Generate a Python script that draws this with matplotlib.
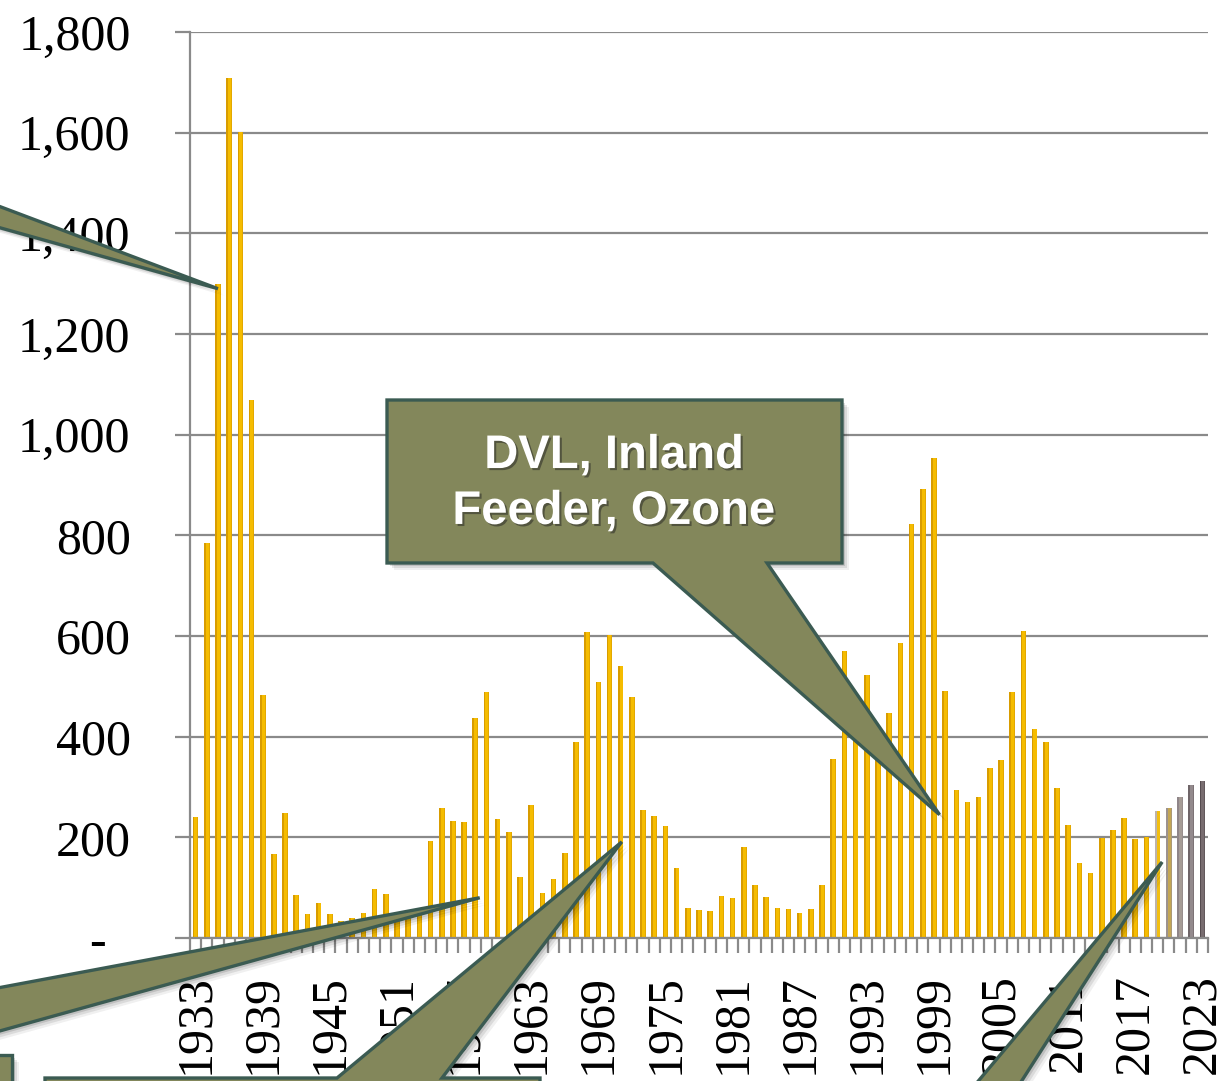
import numpy as np
import matplotlib
matplotlib.use("Agg")
import matplotlib.pyplot as plt
import matplotlib.patches as mpatches
import matplotlib.patheffects as pe
from matplotlib.transforms import IdentityTransform
from matplotlib.ticker import FuncFormatter

years = list(range(1933, 2024))
values = [240, 785, 1300, 1709, 1601, 1069, 483, 167, 248, 85,
          48, 70, 48, 34, 40, 50, 97, 87, 40, 52,
          60, 193, 258, 232, 230, 437, 489, 236, 210, 121,
          264, 89, 117, 169, 389, 608, 509, 602, 540, 479,
          254, 242, 222, 139, 60, 56, 54, 83, 79, 181,
          105, 81, 60, 58, 50, 58, 105, 355, 571, 450,
          523, 400, 448, 587, 822, 893, 953, 490, 295, 271,
          281, 337, 353, 488, 609, 416, 390, 299, 224, 150,
          130, 199, 215, 239, 197, 201, 253, 259, 281, 303,
          311]
# last five years fade from gold to grey
face_colors = ['#F5BC00'] * 86 + ['#F2BE10', '#C4A654', '#A69C96', '#938A8D', '#786D70']
shade_colors = ['#D89C00'] * 86 + ['#BDB3AA', '#9C928E', '#8F8588', '#6F6568', '#564C50']

callout_text = "DVL, Inland\nFeeder, Ozone"
# (year, value) where each callout tail points
tip_top_left = (1935, 1290)
tip_dvl = (1999.5, 245)
tip_bottom_left = (1958.4, 80)
tip_bottom_mid = (1971.1, 191)
tip_bottom_right = (2019.4, 151)

W, H = 1230, 1081
grey = '#8A8A8A'
fill = '#83875B'
border = '#3B5B52'

plt.rcParams['font.family'] = ['Liberation Serif', 'DejaVu Serif']

fig = plt.figure(figsize=(W / 100, H / 100), dpi=100)
ax = fig.add_axes([190 / W, 1 - 938 / H, 1018 / W, (938 - 32) / H])

x = np.arange(len(years))
ax.bar(x, values, width=0.5, color=face_colors, zorder=2)
ax.bar(x - 0.25, values, width=0.15, align='edge', color=shade_colors, zorder=2)
ax.bar(x + 0.17, values, width=0.08, align='edge', color=shade_colors, alpha=0.6, zorder=2)

ax.set_xlim(-0.5, len(years) - 0.5)
ax.set_ylim(0, 1800)
ax.set_yticks(np.arange(0, 1801, 200))
ax.yaxis.set_major_formatter(FuncFormatter(lambda v, p: f"{v:,.0f}" if v else ""))
ax.text((97 - 190) / 1018, 0, "-", transform=ax.get_yaxis_transform(),
        ha='center', va='center_baseline', fontsize=36, clip_on=False)

ax.set_xticks(x[::6])
ax.set_xticklabels([str(y) for y in years[::6]], rotation=90)
ax.set_xticks(np.arange(-0.5, len(years), 1), minor=True)

ax.tick_params(axis='y', length=10.8, width=1.6, color=grey, pad=32, labelsize=36)
ax.tick_params(axis='x', which='major', length=0, pad=26, labelsize=36)
ax.tick_params(axis='x', which='minor', length=10.8, width=1.6, color=grey)

ax.yaxis.grid(True, color=grey, linewidth=1.6)
ax.set_axisbelow(True)
for s in ['top', 'right']:
    ax.spines[s].set_visible(False)
for s in ['left', 'bottom']:
    ax.spines[s].set_color(grey)
    ax.spines[s].set_linewidth(1.6)


def disp(px, py):
    return (px, H - py)


def tip(year_val):
    return tuple(ax.transData.transform((year_val[0] - years[0], year_val[1])))


def callout(verts):
    for off, a in [(7, 0.06), (5, 0.09), (3, 0.12)]:
        sh = mpatches.Polygon([(vx + off, vy - off) for vx, vy in verts], closed=True,
                              transform=IdentityTransform(), facecolor='black',
                              edgecolor='none', alpha=a, zorder=4)
        fig.add_artist(sh)
    poly = mpatches.Polygon(verts, closed=True, transform=IdentityTransform(),
                            facecolor=fill, edgecolor=border, linewidth=2.4,
                            joinstyle='miter', zorder=5)
    fig.add_artist(poly)


# top-left tail (box off the picture)
callout([disp(-60, 184), tip(tip_top_left), disp(-60, 211)])

# middle box with text
callout([disp(387, 400), disp(842, 400), disp(842, 563), disp(767, 563),
         tip(tip_dvl), disp(653, 563), disp(387, 563)])

# bottom-left box and tail
callout([disp(-300, 1055), disp(12, 1055), disp(12, 1300), disp(-300, 1300)])
callout([disp(-40, 995), tip(tip_bottom_left), disp(-40, 1042)])

# bottom-middle box and tail
callout([disp(45, 1078), disp(337, 1078), tip(tip_bottom_mid), disp(442, 1078),
         disp(540, 1078), disp(540, 1300), disp(45, 1300)])

# bottom-right tail
callout([disp(954, 1110), tip(tip_bottom_right), disp(1003, 1110),
         disp(1100, 1110), disp(1100, 1300), disp(850, 1300), disp(850, 1110)])

fig.text(614 / W, 1 - 484 / H, callout_text, ha='center', va='center',
         fontsize=34, fontweight='bold', family=['Liberation Sans', 'DejaVu Sans'],
         color='white', zorder=6, linespacing=1.35,
         path_effects=[pe.withSimplePatchShadow(offset=(1.5, -1.5),
                                                shadow_rgbFace='#222222', alpha=0.5)])

fig.savefig('out.png', dpi=100)
